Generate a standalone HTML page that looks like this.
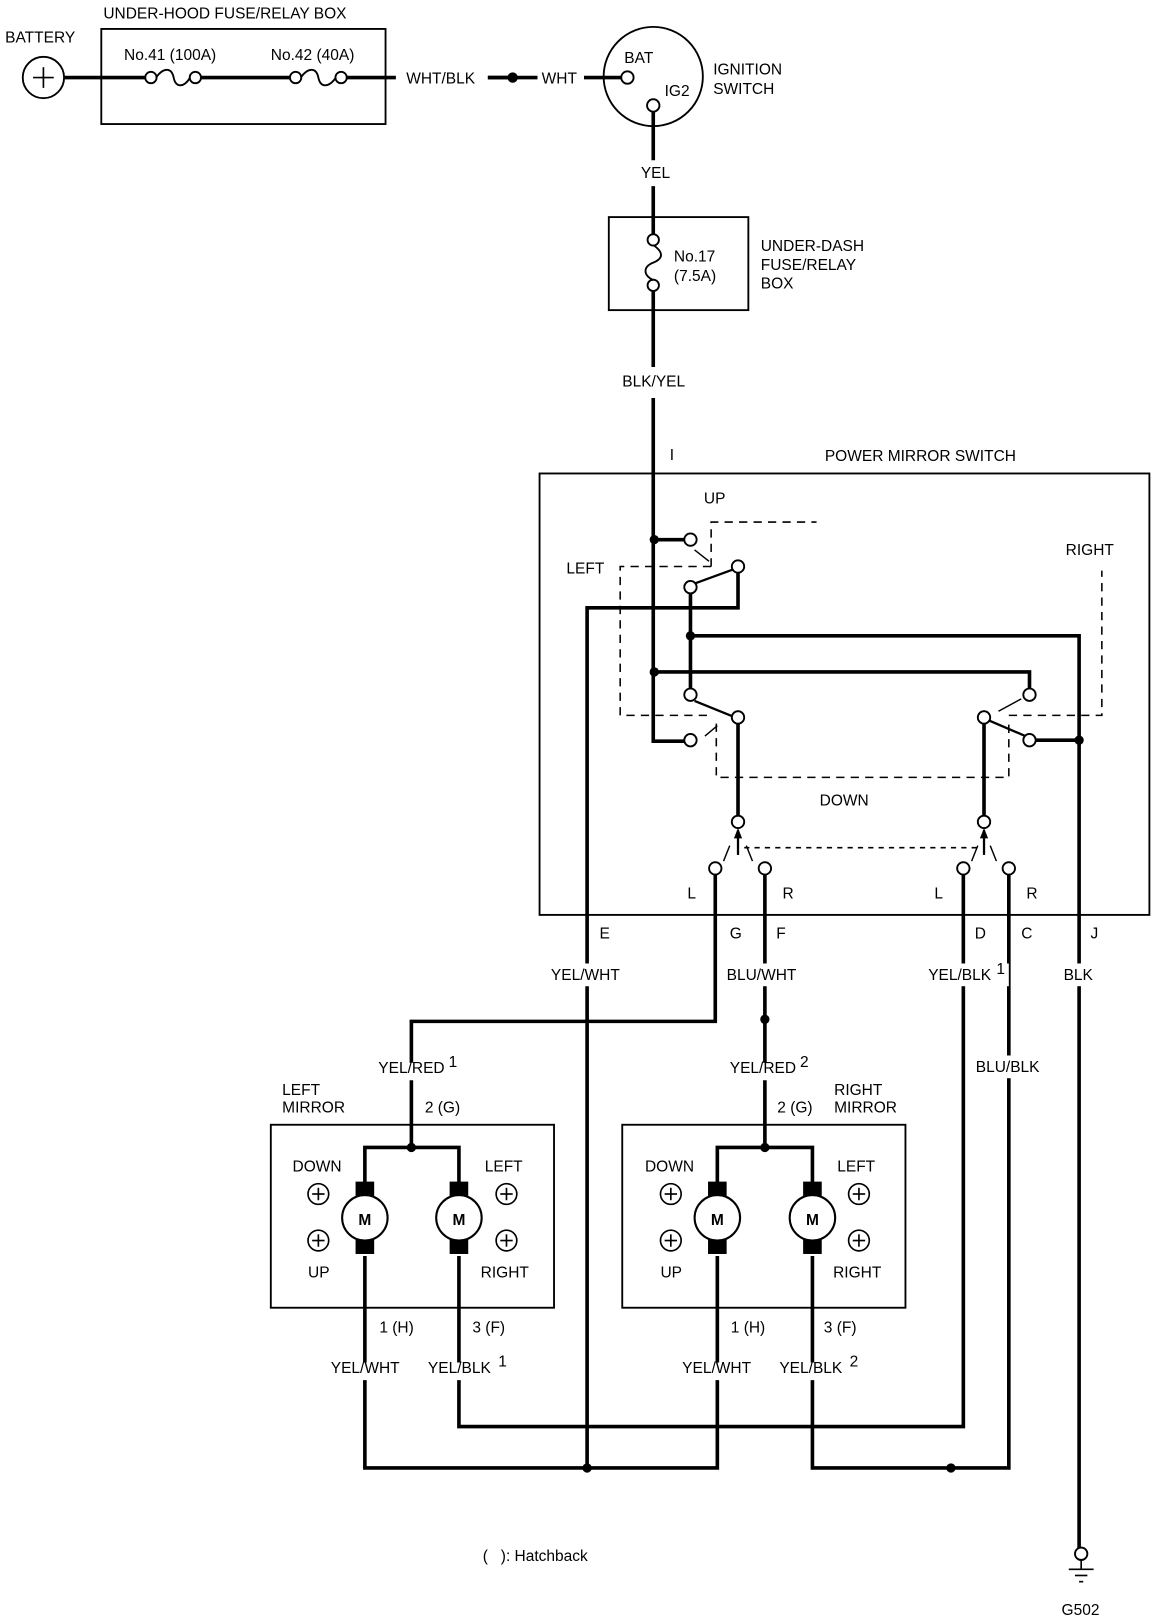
<!DOCTYPE html>
<html><head><meta charset="utf-8"><style>
html,body{margin:0;padding:0;background:#fff;}
svg{display:block;}
text{font-family:"Liberation Sans",sans-serif;font-size:15px;fill:#000;}
</style></head><body>
<svg width="1168" height="1622" viewBox="0 0 1130 1569" preserveAspectRatio="none" xmlns="http://www.w3.org/2000/svg">
<g fill="none" stroke="#000" stroke-width="1.8">
<rect x="98" y="28" width="275" height="92"/>
<rect x="589" y="210" width="135" height="90"/>
<rect x="522" y="458" width="590" height="427"/>
<rect x="262" y="1088" width="274" height="177"/>
<rect x="602" y="1088" width="274" height="177"/>
<circle cx="42" cy="75" r="20"/>
<circle cx="632" cy="74" r="48"/>
</g>
<g stroke="#000" stroke-width="1.6">
<line x1="32" y1="75" x2="52" y2="75"/><line x1="42" y1="65" x2="42" y2="85"/>
</g>
<g fill="none" stroke="#000" stroke-width="3.5" stroke-linejoin="miter">
<line x1="62" y1="75" x2="140" y2="75"/>
<line x1="195" y1="75" x2="280" y2="75"/>
<line x1="336" y1="75" x2="383" y2="75"/>
<line x1="472" y1="75" x2="520" y2="75"/>
<line x1="565" y1="75" x2="601" y2="75"/>
<line x1="632" y1="108" x2="632" y2="155"/>
<line x1="632" y1="180" x2="632" y2="226"/>
<line x1="632" y1="282" x2="632" y2="355"/>
<polyline points="632,385 632,717 662,717"/>
<line x1="632" y1="522" x2="662" y2="522"/>
<polyline points="714,554 714,588 568,588 568,1420"/>
<polyline points="668,574 668,666"/>
<polyline points="668,615 1044,615 1044,1500"/>
<polyline points="632,650 996,650 996,666"/>
<line x1="1002" y1="716" x2="1044" y2="716"/>
<line x1="714" y1="700" x2="714" y2="789"/>
<line x1="952" y1="700" x2="952" y2="789"/>
<polyline points="692,846 692,988 398,988 398,1028"/>
<line x1="398" y1="1045" x2="398" y2="1110"/>
<polyline points="740,846 740,1028"/>
<line x1="740" y1="1045" x2="740" y2="1110"/>
<polyline points="932,846 932,1380 444,1380 444,1335"/>
<line x1="444" y1="1318" x2="444" y2="1215"/>
<polyline points="976,846 976,1420 786,1420 786,1335"/>
<line x1="786" y1="1318" x2="786" y2="1215"/>
<polyline points="353,1215 353,1318"/>
<polyline points="353,1335 353,1420 694,1420 694,1335"/>
<line x1="694" y1="1318" x2="694" y2="1215"/>
<polyline points="353,1145 353,1110 444,1110 444,1145"/>
<polyline points="694,1145 694,1110 786,1110 786,1145"/>
</g>
<g stroke="#000" stroke-width="2.2" fill="none">
<line x1="668" y1="566" x2="709" y2="551"/>
<line x1="672" y1="678" x2="709" y2="693"/>
<line x1="957" y1="697" x2="992" y2="712"/>
<line x1="714" y1="827" x2="714" y2="803"/>
<line x1="952" y1="827" x2="952" y2="803"/>
</g>
<g fill="#000"><polygon points="714,801 710,811 718,811"/><polygon points="952,801 948,811 956,811"/></g>
<g stroke="#000" stroke-width="1.5" fill="none" stroke-dasharray="8,6">
<polyline points="688,548 688,505 790,505"/>
<polyline points="688,548 600,548 600,692 690,692"/>
<polyline points="693,700 693,752 976,752 976,700"/>
<polyline points="976,692 1066,692 1066,552"/>
<line x1="720" y1="820" x2="946" y2="820" stroke-dasharray="5,5"/>
</g>
<g stroke="#000" stroke-width="1.4" fill="none">
<line x1="672" y1="532" x2="686" y2="543"/>
<line x1="682" y1="712" x2="694" y2="702"/>
<line x1="966" y1="688" x2="988" y2="676"/>
<line x1="700" y1="833" x2="706" y2="818"/>
<line x1="728" y1="833" x2="722" y2="818"/>
<line x1="940" y1="833" x2="946" y2="818"/>
<line x1="964" y1="833" x2="958" y2="818"/>
</g>
<g fill="#fff" stroke="#000" stroke-width="1.8">
<circle cx="146" cy="75" r="5.5"/><circle cx="189" cy="75" r="5.5"/>
<circle cx="286" cy="75" r="5.5"/><circle cx="330" cy="75" r="5.5"/>
<circle cx="607" cy="75" r="6"/><circle cx="632" cy="102" r="6"/>
<circle cx="632" cy="232" r="5.5"/><circle cx="632" cy="276" r="5.5"/>
<circle cx="668" cy="522" r="6"/><circle cx="714" cy="548" r="6"/><circle cx="668" cy="568" r="6"/>
<circle cx="668" cy="672" r="6"/><circle cx="714" cy="694" r="6"/><circle cx="668" cy="716" r="6"/>
<circle cx="996" cy="672" r="6"/><circle cx="952" cy="694" r="6"/><circle cx="996" cy="716" r="6"/>
<circle cx="714" cy="795" r="6"/><circle cx="952" cy="795" r="6"/>
<circle cx="692" cy="840" r="6"/><circle cx="740" cy="840" r="6"/>
<circle cx="932" cy="840" r="6"/><circle cx="976" cy="840" r="6"/>
<circle cx="1046" cy="1503" r="6"/>
</g>
<g fill="none" stroke="#000" stroke-width="1.8">
<path d="M151,75 C158,65 166,65 168,75 C170,85 178,85 184,75"/>
<path d="M291,75 C298,65 306,65 308,75 C310,85 318,85 325,75"/>
<path d="M632,237 C642,244 642,250 632,254 C622,258 622,266 632,271"/>
</g>
<g stroke="#000" stroke-width="1.6">
<line x1="1034" y1="1518" x2="1058" y2="1518"/><line x1="1040" y1="1524" x2="1052" y2="1524"/><line x1="1044" y1="1530" x2="1048" y2="1530"/>
<line x1="1046" y1="1509" x2="1046" y2="1518"/>
</g>
<g fill="#000">
<circle cx="496" cy="75" r="5"/>
<circle cx="633" cy="522" r="4.5"/><circle cx="668" cy="615" r="4.5"/><circle cx="633" cy="650" r="4.5"/>
<circle cx="1044" cy="716" r="4.5"/><circle cx="740" cy="986" r="4.5"/>
<circle cx="398" cy="1110" r="4.5"/><circle cx="740" cy="1110" r="4.5"/>
<circle cx="568" cy="1420" r="4.5"/><circle cx="920" cy="1420" r="4.5"/>
<line x1="472" y1="75" x2="492" y2="75" stroke="#000" stroke-width="3.5"/>
</g>
<g>
<g id="m1">
<rect x="344" y="1143" width="18" height="14" fill="#000"/>
<rect x="344" y="1199" width="18" height="14" fill="#000"/>
<circle cx="353" cy="1178" r="22" fill="#fff" stroke="#000" stroke-width="2"/>
<text x="353" y="1185" text-anchor="middle" font-size="18" font-weight="bold">M</text>
</g>
<use href="#m1" x="91"/><use href="#m1" x="341"/><use href="#m1" x="433"/>
<g id="p1" fill="#fff" stroke="#000" stroke-width="1.6">
<circle cx="308" cy="1155" r="10"/><line x1="302" y1="1155" x2="314" y2="1155"/><line x1="308" y1="1149" x2="308" y2="1161"/>
</g>
<use href="#p1" y="45"/><use href="#p1" x="182"/><use href="#p1" x="182" y="45"/>
<use href="#p1" x="341"/><use href="#p1" x="341" y="45"/><use href="#p1" x="523"/><use href="#p1" x="523" y="45"/>
</g>
<g fill="#fff">
<rect x="531" y="932" width="74" height="22"/>
<rect x="701" y="932" width="74" height="22"/>
<rect x="896" y="932" width="80" height="22"/>
<rect x="1027" y="932" width="34" height="22"/>
<rect x="942" y="1021" width="70" height="22"/>
</g>
<g>
<text x="5" y="41">BATTERY</text>
<text x="100" y="18">UNDER-HOOD FUSE/RELAY BOX</text>
<text x="120" y="58">No.41 (100A)</text>
<text x="262" y="58">No.42 (40A)</text>
<text x="393" y="81">WHT/BLK</text>
<text x="524" y="81">WHT</text>
<text x="604" y="61">BAT</text>
<text x="643" y="93">IG2</text>
<text x="690" y="72">IGNITION</text>
<text x="690" y="91">SWITCH</text>
<text x="620" y="172">YEL</text>
<text x="652" y="253">No.17</text>
<text x="652" y="272">(7.5A)</text>
<text x="736" y="243">UNDER-DASH</text>
<text x="736" y="261">FUSE/RELAY</text>
<text x="736" y="279">BOX</text>
<text x="602" y="374">BLK/YEL</text>
<text x="648" y="445">I</text>
<text x="798" y="446">POWER MIRROR SWITCH</text>
<text x="681" y="487">UP</text>
<text x="548" y="555">LEFT</text>
<text x="1031" y="537">RIGHT</text>
<text x="793" y="779">DOWN</text>
<text x="665" y="869">L</text><text x="757" y="869">R</text>
<text x="904" y="869">L</text><text x="993" y="869">R</text>
<text x="580" y="908">E</text><text x="706" y="908">G</text><text x="751" y="908">F</text>
<text x="943" y="908">D</text><text x="988" y="908">C</text><text x="1055" y="908">J</text>
<text x="533" y="948">YEL/WHT</text>
<text x="703" y="948">BLU/WHT</text>
<text x="898" y="948">YEL/BLK</text><text x="964" y="942" font-size="10">1</text>
<text x="1029" y="948">BLK</text>
<text x="944" y="1037">BLU/BLK</text>
<text x="366" y="1038">YEL/RED</text><text x="434" y="1032" font-size="10">1</text>
<text x="706" y="1038">YEL/RED</text><text x="774" y="1032" font-size="10">2</text>
<text x="273" y="1059">LEFT</text><text x="273" y="1076">MIRROR</text>
<text x="411" y="1076">2 (G)</text>
<text x="807" y="1059">RIGHT</text><text x="807" y="1076">MIRROR</text>
<text x="752" y="1076">2 (G)</text>
<text x="283" y="1133">DOWN</text><text x="469" y="1133">LEFT</text>
<text x="298" y="1236">UP</text><text x="465" y="1236">RIGHT</text>
<text x="624" y="1133">DOWN</text><text x="810" y="1133">LEFT</text>
<text x="639" y="1236">UP</text><text x="806" y="1236">RIGHT</text>
<text x="367" y="1289">1 (H)</text><text x="457" y="1289">3 (F)</text>
<text x="707" y="1289">1 (H)</text><text x="797" y="1289">3 (F)</text>
<text x="320" y="1328">YEL/WHT</text>
<text x="414" y="1328">YEL/BLK</text><text x="482" y="1322" font-size="10">1</text>
<text x="660" y="1328">YEL/WHT</text>
<text x="754" y="1328">YEL/BLK</text><text x="822" y="1322" font-size="10">2</text>
<text x="467" y="1510">(&#160;&#160;&#160;): Hatchback</text>
<text x="1027" y="1562">G502</text>
</g>
</svg>
</body></html>
